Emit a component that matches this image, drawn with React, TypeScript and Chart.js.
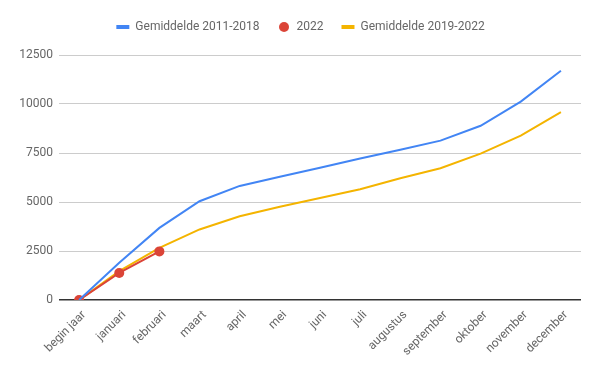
import React, { useEffect, useRef } from "react";
import { Chart, registerables } from "chart.js";

Chart.register(...registerables);

const categories = ["begin jaar", "januari", "februari", "maart", "april", "mei", "juni", "juli", "augustus", "september", "oktober", "november", "december"];
const avg2011_2018 = [0, 1900, 3680, 5040, 5820, 6290, 6750, 7220, 7670, 8130, 8890, 10120, 11700];
const y2022 = [0, 1380, 2480, null, null, null, null, null, null, null, null, null, null];
const avg2019_2022 = [0, 1470, 2660, 3600, 4270, 4760, 5200, 5650, 6210, 6720, 7470, 8390, 9580];
const yTicks = [0, 2500, 5000, 7500, 10000, 12500];

const BLUE = "#4285f4";
const RED = "#db4437";
const YELLOW = "#f4b400";

const legendSpacer = {
  id: "legendSpacer",
  beforeInit(chart: any) {
    const orig = chart.legend.fit;
    chart.legend.fit = function () {
      orig.bind(chart.legend)();
      this.height += 12;
    };
  },
  afterLayout(chart: any) {
    const lg = chart.legend;
    if (lg) {
      lg.left += 10;
      lg.right += 10;
    }
  },
};

function makeDot(color: string, d: number) {
  const c = document.createElement("canvas");
  c.width = d;
  c.height = d;
  const g = c.getContext("2d")!;
  g.fillStyle = color;
  g.beginPath();
  g.arc(d / 2, d / 2, d / 2, 0, Math.PI * 2);
  g.fill();
  return c;
}

export default function App() {
  const ref = useRef<HTMLCanvasElement | null>(null);
  useEffect(() => {
    document.body.style.margin = "0";
    const ctx = ref.current!.getContext("2d")!;
    const font = { family: "Roboto", size: 12 };
    const dot = makeDot(RED, 10);
    const chart = new Chart(ctx, {
      type: "line",
      plugins: [legendSpacer],
      data: {
        labels: categories,
        datasets: [
          {
            label: "Gemiddelde 2011-2018",
            data: avg2011_2018,
            borderColor: BLUE,
            backgroundColor: BLUE,
            borderWidth: 2,
            pointRadius: 0,
            tension: 0,
          },
          {
            label: "2022",
            data: y2022,
            borderColor: RED,
            backgroundColor: RED,
            borderWidth: 2,
            pointRadius: 5,
            pointBorderWidth: 0,
            pointHoverRadius: 5,
            tension: 0,
            spanGaps: false,
          },
          {
            label: "Gemiddelde 2019-2022",
            data: avg2019_2022,
            borderColor: YELLOW,
            backgroundColor: YELLOW,
            borderWidth: 2,
            pointRadius: 0,
            tension: 0,
          },
        ],
      },
      options: {
        animation: false,
        responsive: false,
        maintainAspectRatio: false,
        layout: { padding: { left: 0, right: 19, top: 3, bottom: 0 } },
        plugins: {
          tooltip: { enabled: false },
          legend: {
            position: "top",
            align: "center",
            labels: {
              font,
              color: "#666",
              usePointStyle: true,
              boxWidth: 13,
              boxHeight: 6.5,
              pointStyleWidth: 13,
              padding: 18,
              generateLabels: (c: any) =>
                c.data.datasets.map((ds: any, i: number) => ({
                  text: ds.label,
                  fillStyle: ds.borderColor,
                  strokeStyle: ds.borderColor,
                  lineWidth: i === 1 ? 0 : 4,
                  pointStyle: i === 1 ? dot : "line",
                  hidden: false,
                  datasetIndex: i,
                  fontColor: "#666",
                })),
            },
          },
        },
        scales: {
          x: {
            offset: true,
            grid: { display: false, drawTicks: false },
            border: { display: false },
            ticks: {
              font,
              color: "#666",
              minRotation: 45,
              maxRotation: 45,
              padding: 8,
              labelOffset: 5,
              autoSkip: false,
            },
            afterFit: (s: any) => {
              s.height = 71;
            },
          },
          y: {
            min: 0,
            max: 12500,
            afterBuildTicks: (s: any) => {
              s.ticks = yTicks.map((v) => ({ value: v }));
            },
            grid: {
              color: (c: any) => (c.tick && c.tick.value === 0 ? "#333" : "#ccc"),
              lineWidth: (c: any) => (c.tick && c.tick.value === 0 ? 1.5 : 1),
              drawTicks: false,
            },
            border: { display: false },
            ticks: { font, color: "#666", padding: 6, callback: (v: any) => String(v) },
            afterFit: (s: any) => {
              s.width = 59;
            },
          },
        },
      },
    });
    return () => chart.destroy();
  }, []);
  return <canvas ref={ref} width={600} height={371} style={{ display: "block" }} />;
}
